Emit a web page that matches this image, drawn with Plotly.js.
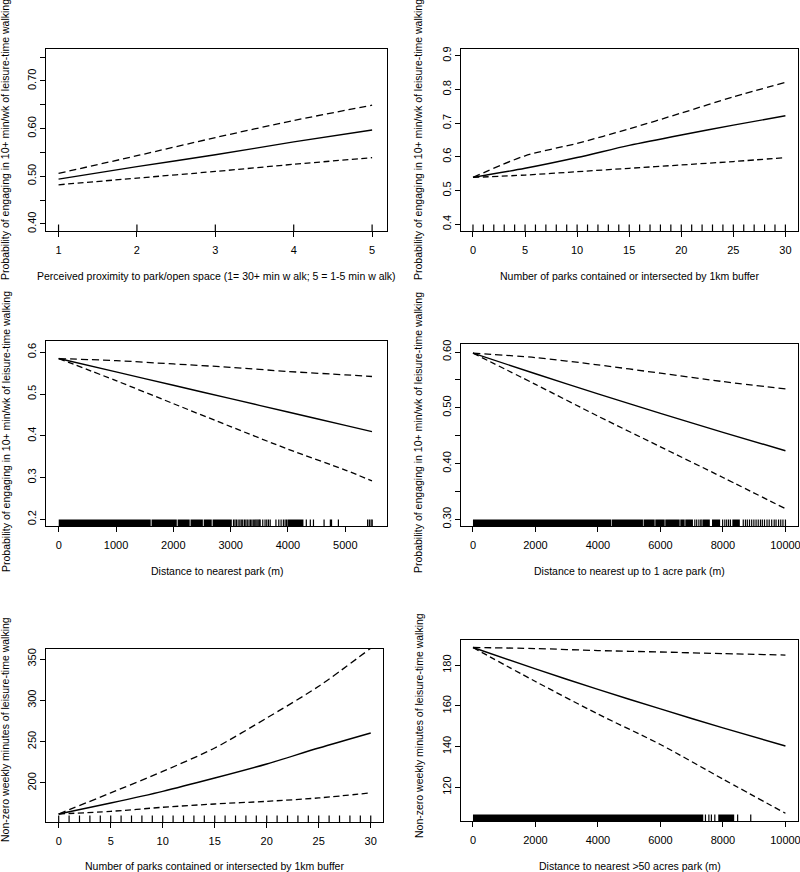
<!DOCTYPE html>
<html>
<head>
<meta charset="utf-8">
<script src="https://cdn.plot.ly/plotly-3.0.1.min.js"></script>
<style>html,body{margin:0;padding:0;background:#fff;}#chart{width:800px;height:872px;}</style>
</head>
<body>
<div id="chart"></div>
<script>
// ---------- data ----------
// Panel 1: perceived proximity
const p1X = [1, 2, 3, 4, 5];
const p1Fit = [0.494, 0.520, 0.545, 0.572, 0.597];
const p1Up = [0.506, 0.543, 0.581, 0.617, 0.649];
const p1Lo = [0.482, 0.496, 0.510, 0.525, 0.539];
const p1Rug = [1, 2, 3, 4, 5];

// Panel 2: number of parks (probability)
const p2X = [0, 5, 10, 15, 20, 25, 30];
const p2Fit = [0.539, 0.566, 0.598, 0.634, 0.665, 0.694, 0.722];
const p2Up = [0.539, 0.603, 0.640, 0.683, 0.730, 0.778, 0.821];
const p2Lo = [0.539, 0.546, 0.556, 0.566, 0.576, 0.586, 0.598];
const p2Rug = [0,1,2,3,4,5,6,7,8,9,10,11,12,13,14,15,16,17,18,19,20,21,22,23,24,25,26,27,28,29,30];

// Panel 3: distance to nearest park
const p3X = [0, 1000, 2000, 3000, 4000, 5000, 5466];
const p3Fit = [0.585, 0.553, 0.521, 0.489, 0.457, 0.425, 0.410];
const p3Up = [0.585, 0.580, 0.572, 0.564, 0.554, 0.546, 0.542];
const p3Lo = [0.585, 0.532, 0.477, 0.422, 0.368, 0.318, 0.292];
const p3RugBands = [[0,1605],[1620,2060],[2075,2285],[2300,2515],[2530,2670],[2685,3020],[3990,4270]];
const p3RugTicks = [3050,3075,3100,3130,3160,3185,3210,3240,3265,3290,3320,3345,3370,3395,3420,3440,3460,3480,3500,3515,
  3560,3600,3630,3660,3690,3790,3840,3880,3920,3950,3975,4320,4390,4445,4630,4740,4760,4880,5390,5420,5450,5470];

// Panel 4: distance to nearest up to 1 acre park
const p4X = [0, 2000, 4000, 6000, 8000, 10000];
const p4Fit = [0.598, 0.561, 0.525, 0.490, 0.456, 0.423];
const p4Up = [0.598, 0.590, 0.577, 0.562, 0.547, 0.534];
const p4Lo = [0.598, 0.542, 0.485, 0.430, 0.375, 0.319];
const p4RugBands = [[0,4430],[4450,5440],[5460,5815],[5835,6135],[6155,6615],[6635,6775],[6795,7040],[7360,7580],[7650,7910],[8300,8540]];
const p4RugTicks = [7100,7160,7230,7290,7330,7990,8060,8120,8180,8240,8650,8720,8780,8850,8920,8990,9060,9130,9200,
  9260,9330,9410,9480,9560,9640,9700,9780,9850,9920,10000];

// Panel 5: number of parks (minutes)
const p5X = [0, 5, 10, 15, 20, 25, 30];
const p5Fit = [162.5, 175.8, 189.9, 206.0, 223.0, 242.3, 260.5];
const p5Up = [162.5, 188.0, 214.0, 242.3, 278.6, 317.0, 363.0];
const p5Lo = [162.5, 165.7, 170.6, 174.6, 177.8, 181.9, 188.0];
const p5Rug = [0,1,2,3,4,5,6,7,8,9,10,11,12,13,14,15,16,17,18,19,20,21,22,23,24,25,26,27,28,29,30];

// Panel 6: distance to nearest >50 acres park
const p6X = [0, 2000, 4000, 6000, 8000, 10000];
const p6Fit = [188.7, 178.2, 168.1, 158.5, 149.2, 140.3];
const p6Up = [188.7, 188.2, 187.2, 186.5, 185.7, 185.0];
const p6Lo = [188.7, 172.0, 156.0, 141.0, 124.0, 107.2];
const p6RugBands = [[0,7370],[7850,8360]];
const p6RugTicks = [7440,7550,7630,7740,8470,8890];

// tick labels
const p1XTicks = [1,2,3,4,5];
const p1YTicks = [0.40,0.45,0.50,0.55,0.60,0.65,0.70,0.75];
const p1YText = ['0.40','','0.50','','0.60','','0.70',''];
const p2XTicks = [0,5,10,15,20,25,30];
const p2YTicks = [0.4,0.5,0.6,0.7,0.8,0.9];
const p3XTicks = [0,1000,2000,3000,4000,5000];
const p3YTicks = [0.2,0.3,0.4,0.5,0.6];
const p4XTicks = [0,2000,4000,6000,8000,10000];
const p4YTicks = [0.30,0.35,0.40,0.45,0.50,0.55,0.60];
const p4YText = ['0.30','','0.40','','0.50','','0.60'];
const p5XTicks = [0,5,10,15,20,25,30];
const p5YTicks = [200,250,300,350];
const p6XTicks = [0,2000,4000,6000,8000,10000];
const p6YTicks = [120,140,160,180];

const yTitleProb = 'Probability of engaging in 10+ min/wk of leisure-time walking';
const yTitleMin = 'Non-zero weekly minutes of leisure-time walking';
const xTitles = [
  'Perceived proximity to park/open space (1= 30+ min w alk; 5 = 1-5 min w alk)',
  'Number of parks contained or intersected by 1km buffer',
  'Distance to nearest park (m)',
  'Distance to nearest up to 1 acre park (m)',
  'Number of parks contained or intersected by 1km buffer',
  'Distance to nearest >50 acres park (m)'
];

// ---------- layout geometry (pixels) ----------
const W = 800, H = 872;
const FONT = 'Liberation Sans, Arial, Helvetica, sans-serif';
const boxes = [
  {l:46, r:387, t:49, b:231, xr:[0.84,5.19], yr:[0.385,0.767]},
  {l:461, r:798, t:49, b:231, xr:[-1.15,31.21], yr:[0.38,0.92]},
  {l:46, r:387, t:341, b:526, xr:[-222,5728], yr:[0.184,0.627]},
  {l:461, r:798, t:344, b:526, xr:[-383,10402], yr:[0.288,0.6144]},
  {l:46, r:383, t:649, b:822, xr:[-1.22,31.18], yr:[152.8,362.1]},
  {l:461, r:798, t:640, b:821, xr:[-383,10402], yr:[103.4,192.4]}
];
const xTitleY = [276, 276, 571, 571, 866, 866];
const yTitleX = [5, 418, 6, 418, 5, 419];
const yTitleY = [140, 140, 432, 433, 730, 726];
const yTitleTxt = [yTitleProb, yTitleProb, yTitleProb, yTitleProb, yTitleMin, yTitleMin];

const xt = [[p1XTicks,null],[p2XTicks,null],[p3XTicks,null],[p4XTicks,null],[p5XTicks,null],[p6XTicks,null]];
const yt = [[p1YTicks,p1YText],[p2YTicks,p2YTicks.map(v=>v.toFixed(1))],[p3YTicks,p3YTicks.map(v=>v.toFixed(1))],
            [p4YTicks,p4YText],[p5YTicks,null],[p6YTicks,null]];

const layout = {
  width: W, height: H, margin: {l:0, r:0, t:0, b:0},
  paper_bgcolor: '#fff', plot_bgcolor: '#fff',
  showlegend: false, font: {family: FONT, color: '#000', size: 11},
  shapes: [], annotations: []
};

boxes.forEach((bx, i) => {
  const n = i + 1;
  const sfx = n === 1 ? '' : String(n);
  const common = {
    showgrid: false, zeroline: false, showline: true, mirror: true,
    linecolor: '#000', linewidth: 1, ticks: 'outside', ticklen: 5, tickwidth: 1,
    tickcolor: '#000', tickfont: {family: FONT, size: 11, color: '#000'}, fixedrange: true,
    ticklabeloverflow: 'allow'
  };
  layout['xaxis' + sfx] = Object.assign({}, common, {
    domain: [bx.l / W, bx.r / W], range: bx.xr, anchor: 'y' + sfx,
    tickmode: 'array', tickvals: xt[i][0], ticktext: xt[i][0].map(String), ticklabelstandoff: 4
  });
  layout['yaxis' + sfx] = Object.assign({}, common, {
    domain: [1 - bx.b / H, 1 - bx.t / H], range: bx.yr, anchor: 'x' + sfx,
    tickmode: 'array', tickvals: yt[i][0], ticktext: yt[i][1] || yt[i][0].map(String), tickangle: -90
  });
  layout.annotations.push({
    xref: 'paper', yref: 'paper', x: (bx.l + bx.r) / 2 / W, y: 1 - xTitleY[i] / H,
    text: xTitles[i], showarrow: false, xanchor: 'center', yanchor: 'middle',
    font: {family: FONT, size: 10.5, color: '#000'}
  });
  layout.annotations.push({
    xref: 'paper', yref: 'paper', x: yTitleX[i] / W, y: 1 - yTitleY[i] / H,
    text: yTitleTxt[i], showarrow: false, textangle: -90, xanchor: 'center', yanchor: 'middle',
    font: {family: FONT, size: 10.5, color: '#000'}
  });
});

const traces = [];
const series = [
  [p1X, p1Fit, p1Up, p1Lo],
  [p2X, p2Fit, p2Up, p2Lo],
  [p3X, p3Fit, p3Up, p3Lo],
  [p4X, p4Fit, p4Up, p4Lo],
  [p5X, p5Fit, p5Up, p5Lo],
  [p6X, p6Fit, p6Up, p6Lo]
];
const rugTicks = [p1Rug, p2Rug, p3RugTicks, p4RugTicks, p5Rug, p6RugTicks];
const rugBands = [[], [], p3RugBands, p4RugBands, [], p6RugBands];
const RUG_PX = 6.5;

series.forEach((s, i) => {
  const n = i + 1;
  const xa = 'x' + (n === 1 ? '' : n), ya = 'y' + (n === 1 ? '' : n);
  const lineBase = {type: 'scatter', mode: 'lines', xaxis: xa, yaxis: ya, hoverinfo: 'skip'};
  traces.push(Object.assign({}, lineBase, {x: s[0], y: s[2], line: {color: '#000', width: 1.3, dash: '7px,4px', shape: 'spline', smoothing: 0.8}}));
  traces.push(Object.assign({}, lineBase, {x: s[0], y: s[3], line: {color: '#000', width: 1.3, dash: '6px,3.5px', shape: 'spline', smoothing: 0.8}}));
  traces.push(Object.assign({}, lineBase, {x: s[0], y: s[1], line: {color: '#000', width: 1.4, shape: 'spline', smoothing: 0.8}}));
  const yMin = boxes[i].yr[0];
  traces.push({
    type: 'scatter', mode: 'markers', xaxis: xa, yaxis: ya, hoverinfo: 'skip', cliponaxis: true,
    x: rugTicks[i], y: rugTicks[i].map(() => yMin),
    // line-ns half-length is 1.4 * size/2
    marker: {symbol: 'line-ns', size: RUG_PX * 2 / 1.4, color: '#000', line: {color: '#000', width: 1.2}}
  });
  const hpx = boxes[i].b - boxes[i].t;
  rugBands[i].forEach(b => {
    layout.shapes.push({
      type: 'rect', xref: xa, yref: ya + ' domain', x0: b[0], x1: b[1], y0: 0, y1: RUG_PX / hpx,
      fillcolor: '#000', line: {width: 0}, layer: 'above'
    });
  });
});

Plotly.newPlot('chart', traces, layout, {staticPlot: true, displayModeBar: false});
</script>
</body>
</html>
